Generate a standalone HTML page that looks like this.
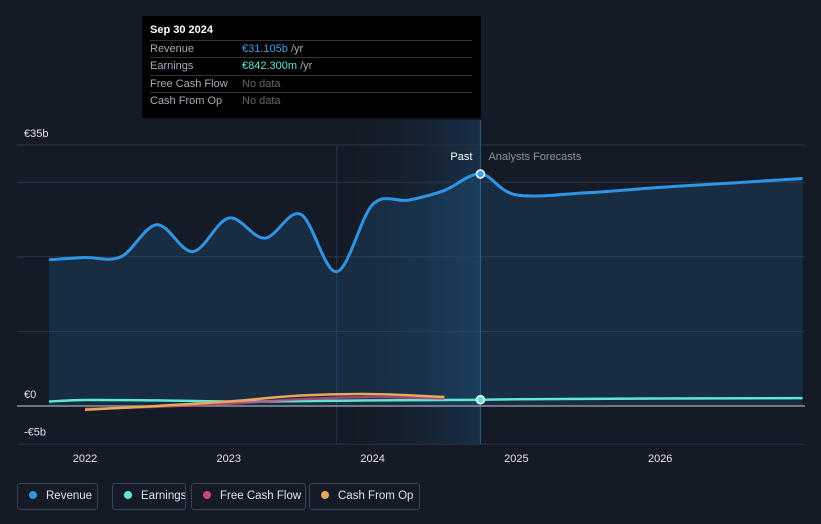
<!DOCTYPE html>
<html><head><meta charset="utf-8"><style>
body{margin:0;background:#151b26;font-family:"Liberation Sans",sans-serif;}
#wrap{position:relative;width:821px;height:524px;overflow:hidden;background:#151b26}
.tt{position:absolute;left:142px;top:16px;width:339px;height:102px;background:#000;color:#fff;font-size:11px}
.tt .row{position:absolute;left:8px;width:322px;border-top:1px solid #333;height:17px;line-height:17px}
.leg{position:absolute;top:483px;height:27px;border:1px solid #3a4150;border-radius:3px;color:#dfe3ea;font-size:11.5px;line-height:25px;box-sizing:border-box;white-space:nowrap;overflow:hidden}
.leg i{display:inline-block;width:8px;height:8px;border-radius:50%;margin:0 9px 0 11px}
</style></head><body><div id="wrap">
<svg id="svg" width="821" height="524" style="position:absolute;left:0;top:0"></svg>
<div class="tt">
<div style="position:absolute;left:8px;top:8px;font-weight:bold">Sep 30 2024</div>
<div class="row" style="top:24px"><span style="color:#aab">Revenue</span><span style="position:absolute;left:92px;color:#3ba2ef">€31.105b <span style="color:#aab">/yr</span></span></div>
<div class="row" style="top:41px"><span style="color:#aab">Earnings</span><span style="position:absolute;left:92px;color:#5de8d3">€842.300m <span style="color:#aab">/yr</span></span></div>
<div class="row" style="top:59px"><span style="color:#aab">Free Cash Flow</span><span style="position:absolute;left:92px;color:#666">No data</span></div>
<div class="row" style="top:76px"><span style="color:#aab">Cash From Op</span><span style="position:absolute;left:92px;color:#666">No data</span></div>
</div>
<div class="leg" style="left:17px;width:81px"><i style="background:#2e95e6"></i>Revenue</div>
<div class="leg" style="left:112px;width:74px"><i style="background:#5de8d3"></i>Earnings</div>
<div class="leg" style="left:191px;width:115px"><i style="background:#c9487c"></i>Free Cash Flow</div>
<div class="leg" style="left:309px;width:111px"><i style="background:#e8a85a"></i>Cash From Op</div>
</div>
<script>
const revX=[2021.75,2022,2022.25,2022.5,2022.75,2023,2023.25,2023.5,2023.75,2024,2024.25,2024.5,2024.75,2025,2025.5,2026,2026.5,2026.99];
const revY=[19.6,19.9,20.0,24.3,20.7,25.2,22.5,25.7,18.0,27.0,27.6,28.9,31.1,28.3,28.6,29.3,29.9,30.5];
const earnX=[2021.75,2022,2022.5,2023,2023.5,2024,2024.5,2024.75,2025,2026,2026.99];
const earnY=[0.6,0.8,0.75,0.6,0.65,0.75,0.8,0.84,0.9,1.0,1.05];
const fcfX=[2022,2022.5,2023,2023.5,2024,2024.5];
const fcfY=[-0.4,-0.1,0.3,0.9,1.2,1.0];
const cfoX=[2022,2022.5,2023,2023.5,2024,2024.5];
const cfoY=[-0.5,0.0,0.6,1.4,1.6,1.2];
const yTicks=[35,0,-5];const yTickLabels=["€35b","€0","-€5b"];
const grid=[35,30,20,10];
const xTicks=[2022,2023,2024,2025,2026];
const X=t=>85+(t-2022)*143.8, Y=v=>406-v*7.46;
const svg=document.getElementById('svg');const NS='http://www.w3.org/2000/svg';
function el(tag,a,p){const e=document.createElementNS(NS,tag);for(const k in a)e.setAttribute(k,a[k]);(p||svg).appendChild(e);return e;}
function path(xs,ys){const p=xs.map((x,i)=>[X(x),Y(ys[i])]);let d='M'+p[0];for(let i=0;i<p.length-1;i++){const a=p[i-1]||p[i],b=p[i],c=p[i+1],e=p[i+2]||c;d+=' C'+(b[0]+(c[0]-a[0])/6)+','+(b[1]+(c[1]-a[1])/6)+' '+(c[0]-(e[0]-b[0])/6)+','+(c[1]-(e[1]-b[1])/6)+' '+c;}return d;}
const defs=el('defs',{});const g=el('linearGradient',{id:'pg',x1:0,x2:1,y1:0,y2:0},defs);el('stop',{offset:0,'stop-color':'#151b26','stop-opacity':0},g);el('stop',{offset:1,'stop-color':'#1a4a72','stop-opacity':0.45},g);
let r=el('rect',{x:X(2023.75),y:120,width:X(2024.75)-X(2023.75),height:324,fill:'url(#pg)'});
grid.forEach(v=>{const l=el('line',{x1:17,x2:805,y1:Y(v),y2:Y(v),stroke:'#2b3342'});});
el('line',{x1:17,x2:805,y1:Y(-5)+1,y2:Y(-5)+1,stroke:'#2b3342'});
el('line',{x1:X(2024.75),x2:X(2024.75),y1:120,y2:444,stroke:'#2c5a85'});
el('line',{x1:X(2023.75),x2:X(2023.75),y1:145,y2:444,stroke:'#1f3550'});
const rd=path(revX,revY);
let a=el('path',{d:rd+' L'+X(revX[revX.length-1])+','+Y(0)+' L'+X(revX[0])+','+Y(0)+'Z',fill:'rgba(46,149,230,0.15)'});
el('line',{x1:17,x2:805,y1:Y(0),y2:Y(0),stroke:'#8b929c','stroke-width':1.5});
let s;
s=el('path',{d:path(earnX,earnY),fill:'none',stroke:'#5de8d3','stroke-width':2.5});
s=el('path',{d:path(fcfX,fcfY),fill:'none',stroke:'#c9487c','stroke-width':2.5,opacity:0.8});
s=el('path',{d:path(cfoX,cfoY),fill:'none',stroke:'#e8a85a','stroke-width':2.5});
s=el('path',{d:rd,fill:'none',stroke:'#2e95e6','stroke-width':3});
el('circle',{cx:X(2024.75),cy:Y(31.1),r:4,fill:'#3ba2ef',stroke:'#fff','stroke-width':1.5});
el('circle',{cx:X(2024.75),cy:Y(0.84),r:4,fill:'#5de8d3',stroke:'#fff','stroke-width':1.5});
yTicks.forEach((v,i)=>{const t=el('text',{x:24,y:Y(v)-8,fill:'#dfe3ea','font-size':11});t.textContent=yTickLabels[i];});
xTicks.forEach(v=>{const t=el('text',{x:X(v),y:462,fill:'#dfe3ea','font-size':11,'text-anchor':'middle'});t.textContent=v;});
let t=el('text',{x:X(2024.75)-8,y:160,fill:'#fff','font-size':11,'text-anchor':'end'});t.textContent='Past';
t=el('text',{x:X(2024.75)+8,y:160,fill:'#8b929c','font-size':11});t.textContent='Analysts Forecasts';
</script></body></html>
